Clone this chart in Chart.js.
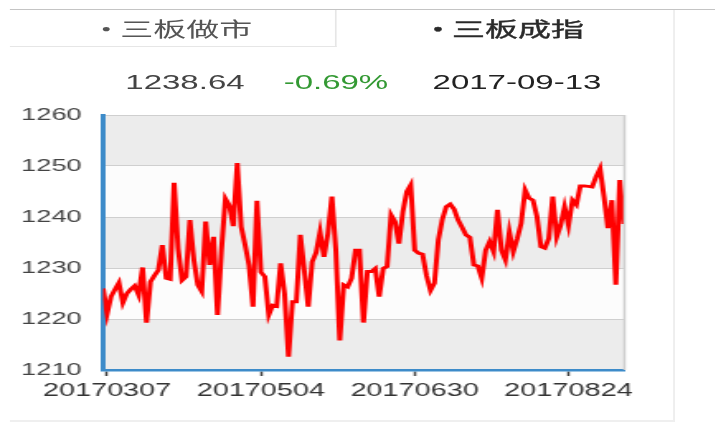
<!DOCTYPE html>
<html>
<head>
<meta charset="utf-8">
<script src="https://cdn.jsdelivr.net/npm/chart.js@4.4.1/dist/chart.umd.min.js"></script>
<style>
html,body{margin:0;padding:0;background:#fff;width:715px;height:423px;overflow:hidden}
#wrap{position:absolute;left:0;top:0;width:433.3px;height:423px;transform:scaleX(1.65);transform-origin:0 0}
.topline{position:absolute;left:6.1px;top:9px;width:428px;height:1px;background:#c4c4c4}
.tab{position:absolute;top:10px;height:37px;line-height:37px;text-align:center;font-family:"Noto Sans CJK SC",sans-serif;font-size:20px;box-sizing:border-box;padding-right:2px}
.tab .dot{margin-right:-1.5px}
#tab1{left:6.1px;width:198px;border-right:1px solid #e6e6e6;border-bottom:1px solid #e6e6e6;color:#555}
#tab2{left:204.2px;width:203px;color:#2a2a2a;-webkit-text-stroke:0.35px #2a2a2a}
.info{position:absolute;top:72.4px;height:20px;line-height:20px;width:120px;text-align:center;font-family:"Liberation Sans",Arial,sans-serif;font-size:20px}
#panelR{position:absolute;left:407.9px;top:10px;width:1px;height:412px;background:#ececec}
#panelB{position:absolute;left:6.1px;top:420px;width:402px;height:2px;background:#efefef}
canvas{position:absolute;left:0;top:100px}
</style>
</head>
<body>
<div id="wrap">
  <div class="topline"></div>
  <div class="tab" id="tab1"><span class="dot">·</span>三板做市</div>
  <div class="tab" id="tab2"><span class="dot">·</span>三板成指</div>
  <div class="info" style="left:52.1px;color:#444">1238.64</div>
  <div class="info" style="left:143.6px;color:#339933">-0.69%</div>
  <div class="info" style="left:253.3px;color:#222">2017-09-13</div>
  <div id="panelR"></div>
  <div id="panelB"></div>
  <canvas id="chart" width="433" height="323" style="width:433px;height:323px"></canvas>
</div>
<script>
// 三板成指 daily close, 20170306 .. 20170913 (one value per trading day)
const closeValues = [
  1226.0,1221.0,1224.4,1225.8,1227.1,1223.2,1225.0,1225.8,1226.5,1224.7,
  1230.1,1219.3,1227.3,1228.5,1229.6,1234.5,1228.0,1227.8,1246.7,1233.9,
  1227.6,1228.3,1239.4,1231.6,1226.7,1225.4,1239.1,1230.6,1236.1,1220.8,
  1233.5,1243.6,1242.3,1238.2,1250.6,1238.1,1234.5,1230.5,1222.4,1243.2,
  1229.2,1228.3,1220.8,1222.7,1222.5,1230.9,1225.0,1212.6,1223.4,1223.4,
  1236.5,1229.6,1222.4,1231.2,1233.0,1237.1,1232.2,1236.8,1244.0,1233.5,
  1215.8,1226.7,1226.3,1228.0,1233.5,1233.5,1219.3,1229.3,1229.3,1229.9,
  1224.4,1229.9,1230.3,1240.4,1239.1,1234.8,1241.0,1245.0,1246.3,1233.5,
  1232.9,1232.7,1228.5,1225.6,1227.0,1235.5,1239.5,1242.0,1242.5,1241.5,
  1239.4,1238.0,1236.5,1236.0,1230.6,1230.4,1228.0,1233.5,1235.2,1233.2,
  1241.4,1233.5,1231.6,1237.1,1233.2,1235.8,1238.8,1245.3,1243.7,1243.3,
  1240.1,1234.2,1233.9,1235.8,1244.0,1236.1,1238.4,1242.0,1238.4,1243.3,
  1242.4,1246.1,1246.1,1246.0,1245.9,1247.9,1249.5,1244.0,1237.8,1243.3,
  1226.7,1247.25,1238.64
];
const tickDates = ['20170307','20170504','20170630','20170824'];
const tickIndex = [1,40,79,118];
const yTicks = [1210,1220,1230,1240,1250,1260];

const bands = {
  id:'bands',
  beforeDraw(chart){
    const {ctx, chartArea:a, scales:{y}} = chart;
    ctx.save();
    for(let k=0;k<yTicks.length-1;k++){
      const top = y.getPixelForValue(yTicks[k+1]), bot = y.getPixelForValue(yTicks[k]);
      ctx.fillStyle = (k%2===0) ? '#ececec' : '#fcfcfc';
      ctx.fillRect(a.left, top, a.right-a.left, bot-top);
    }
    ctx.restore();
  },
  afterDatasetsDraw(chart){
    const {ctx, chartArea:a} = chart;
    ctx.save();
    ctx.strokeStyle='#cfcfcf'; ctx.lineWidth=1.5;
    ctx.beginPath(); ctx.moveTo(a.right+0.5,a.top); ctx.lineTo(a.right+0.5,a.bottom); ctx.stroke();
    ctx.restore();
  }
};

new Chart(document.getElementById('chart'),{
  type:'line',
  data:{datasets:[{
    data: closeValues.map((v,i)=>({x:i,y:v})),
    borderColor:'#ff0000', borderWidth:3, pointRadius:0, tension:0, fill:false
  }]},
  options:{
    responsive:false, animation:false, devicePixelRatio:1,
    layout:{padding:{left:13,right:55,top:15,bottom:21}},
    plugins:{legend:{display:false},tooltip:{enabled:false}},
    scales:{
      x:{
        type:'linear', min:0, max:closeValues.length-1,
        afterBuildTicks(s){ s.ticks = tickIndex.map(v=>({value:v})); },
        afterFit(s){ s.height = 32; s.paddingLeft = 0; s.paddingRight = 0; },
        grid:{drawOnChartArea:false, drawTicks:true, tickLength:6, tickColor:'#444', tickWidth:1.5},
        border:{color:'#3d8bc9', width:2.5},
        ticks:{
          autoSkip:false, maxRotation:0, padding:5, color:'#333',
          font:{family:'"Liberation Sans", Arial, sans-serif', size:17.5},
          callback(v){ const k = tickIndex.indexOf(v); return k<0 ? '' : tickDates[k]; }
        }
      },
      y:{
        min:1210, max:1260,
        afterBuildTicks(s){ s.ticks = yTicks.map(v=>({value:v})); },
        afterFit(s){ s.width = 49.5; s.paddingTop = 0; s.paddingBottom = 0; },
        grid:{color:'#cfcfcf', lineWidth:1, drawTicks:false},
        border:{color:'#3d8bc9', width:3},
        ticks:{padding:13, color:'#444', font:{family:'"Liberation Sans", Arial, sans-serif', size:16.5},
          callback(v){ return String(v); }}
      }
    }
  },
  plugins:[bands]
});
</script>
</body>
</html>
